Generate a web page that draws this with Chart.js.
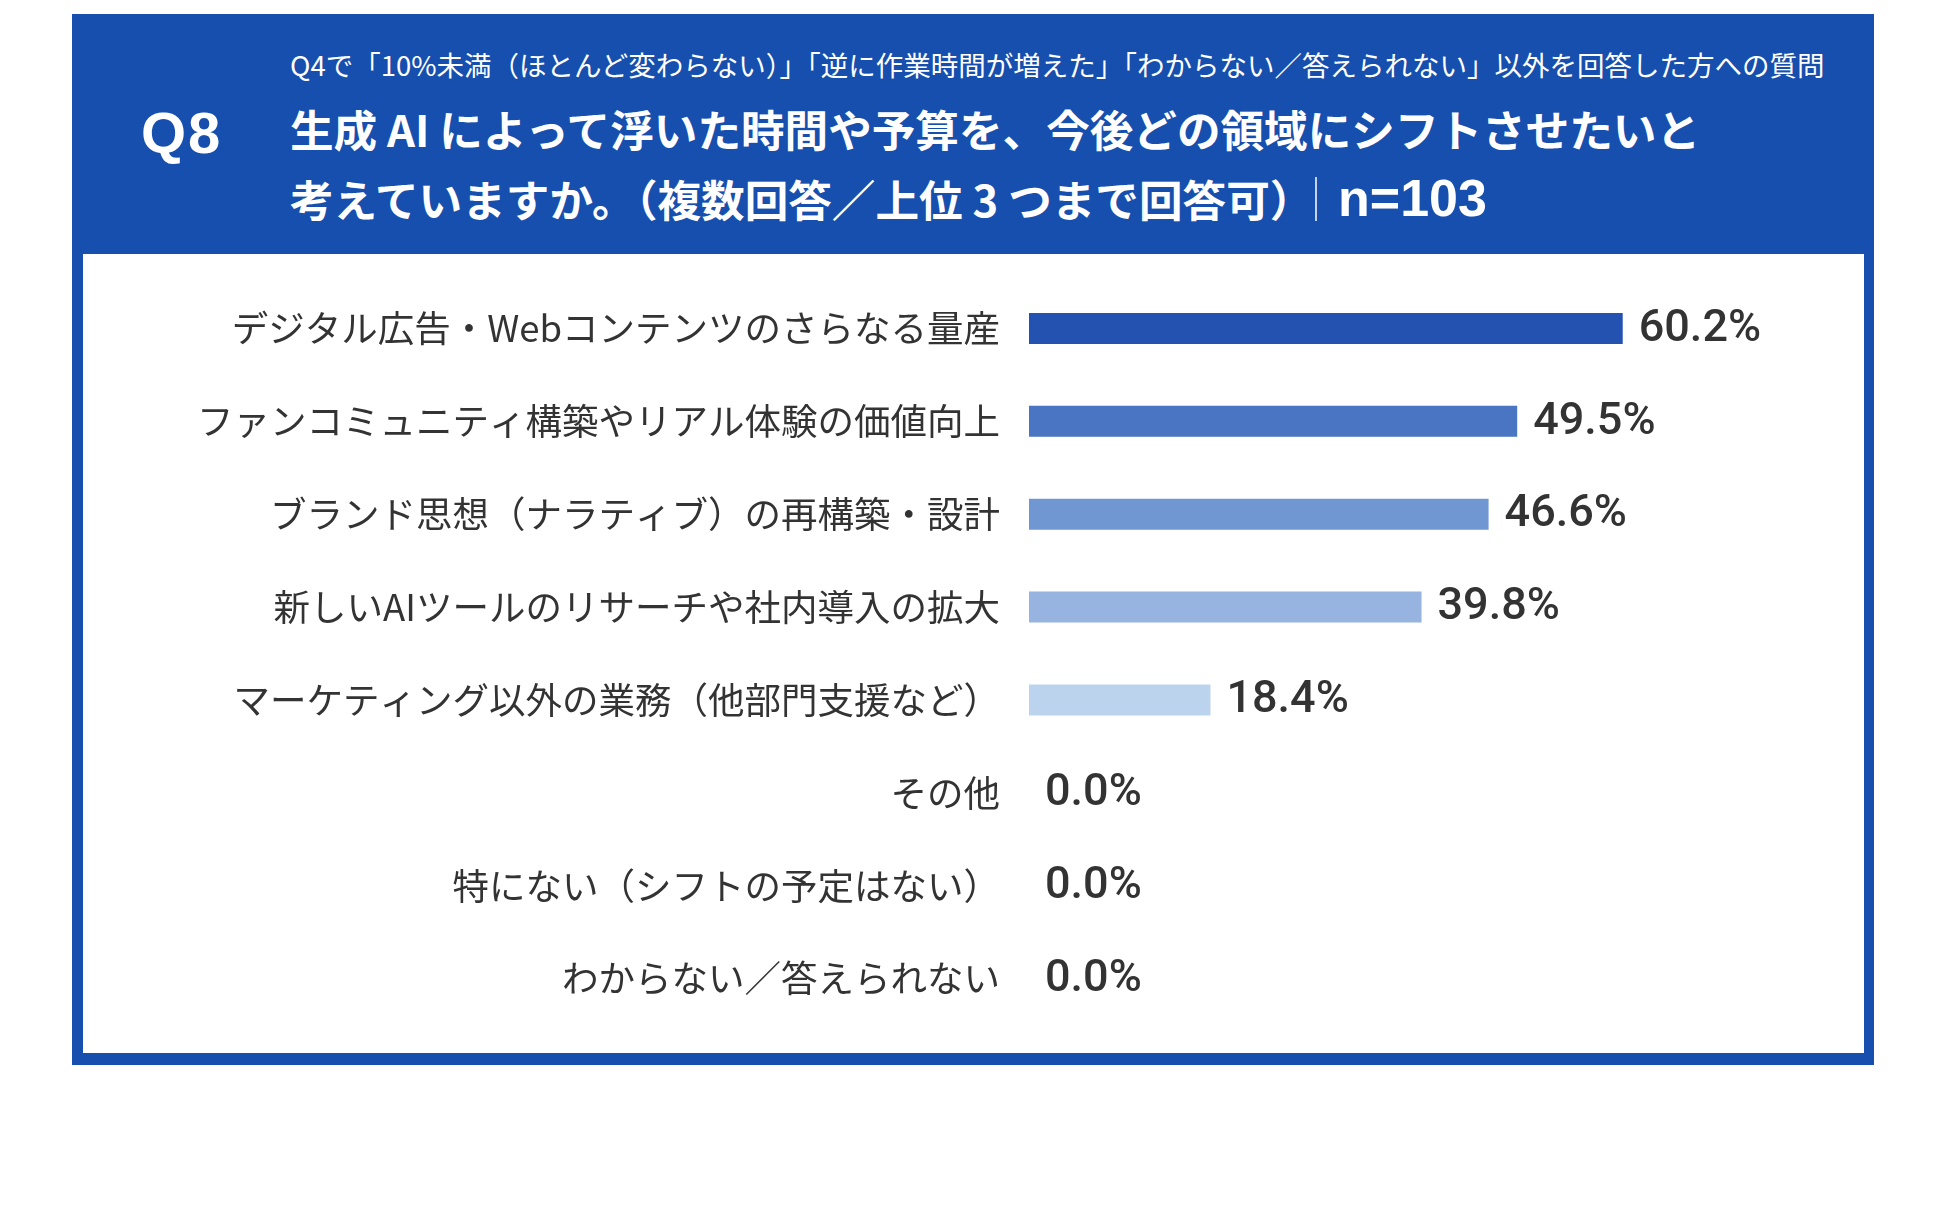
<!DOCTYPE html>
<html lang="ja">
<head>
<meta charset="utf-8">
<script src="https://cdn.jsdelivr.net/npm/chart.js@4.4.1/dist/chart.umd.min.js"></script>
<style>
  html, body { margin: 0; padding: 0; background: #ffffff; }
  body { width: 1950px; height: 1214px; position: relative; overflow: hidden; font-family: 'Noto Sans CJK JP', 'Noto Sans', sans-serif; }
  #frame { position: absolute; left: 72px; top: 14px; width: 1802px; height: 1051px; background: #164fad; }
  #inner { position: absolute; left: 83px; top: 254px; width: 1781px; height: 799px; background: #ffffff; }
  .hdr { position: absolute; color: #ffffff; white-space: nowrap; }
  #sub { left: 290px; top: 44px; font-size: 27.5px; line-height: 40px; font-weight: 400; }
  #q { left: 141px; top: 101px; font-family: 'Liberation Sans', Arial, sans-serif; font-size: 58px; line-height: 64px; font-weight: 700; letter-spacing: 2px; }
  #t1 { left: 290px; top: 103px; font-size: 43.6px; line-height: 50px; font-weight: 700; }
  #t2 { left: 290px; top: 173px; font-size: 43.6px; line-height: 50px; font-weight: 700; }
  #sep { position: absolute; left: 1315px; top: 177px; width: 2px; height: 44px; background: rgba(255,255,255,0.75); }
  #n { left: 1338px; top: 169px; font-family: 'Liberation Sans', Arial, sans-serif; font-size: 52px; line-height: 58px; font-weight: 700; }
  #chartBox { position: absolute; left: 84px; top: 256px; width: 1780px; height: 797px; }
</style>
</head>
<body>
<div id="frame"></div>
<div id="inner"></div>
<div class="hdr" id="sub">Q4で「10%未満（ほとんど変わらない）」「逆に作業時間が増えた」「わからない／答えられない」以外を回答した方への質問</div>
<div class="hdr" id="q">Q8</div>
<div class="hdr" id="t1">生成 AI によって浮いた時間や予算を、今後どの領域にシフトさせたいと</div>
<div class="hdr" id="t2">考えていますか。（複数回答／上位 3 つまで回答可）</div>
<div id="sep"></div>
<div class="hdr" id="n">n=103</div>
<div id="chartBox"><canvas id="c"></canvas></div>
<script>
const categories = [
  'デジタル広告・Webコンテンツのさらなる量産',
  'ファンコミュニティ構築やリアル体験の価値向上',
  'ブランド思想（ナラティブ）の再構築・設計',
  '新しいAIツールのリサーチや社内導入の拡大',
  'マーケティング以外の業務（他部門支援など）',
  'その他',
  '特にない（シフトの予定はない）',
  'わからない／答えられない'
];
const values = [60.2, 49.5, 46.6, 39.8, 18.4, 0.0, 0.0, 0.0];
const barColors = ['#2452b0', '#4a75c2', '#7097d1', '#97b3e0', '#bcd3ee', '#bcd3ee', '#bcd3ee', '#bcd3ee'];

const valueLabels = {
  id: 'valueLabels',
  afterDatasetsDraw(chart) {
    const ctx = chart.ctx;
    const meta = chart.getDatasetMeta(0);
    ctx.save();
    ctx.font = '500 45px Roboto, "Liberation Sans", sans-serif';
    ctx.fillStyle = '#333333';
    ctx.textAlign = 'left';
    ctx.textBaseline = 'middle';
    meta.data.forEach((bar, i) => {
      const v = chart.data.datasets[0].data[i];
      ctx.fillText(v.toFixed(1) + '%', bar.x + 16, bar.y + 1);
    });
    ctx.restore();
  }
};

new Chart(document.getElementById('c'), {
  type: 'bar',
  data: {
    labels: categories,
    datasets: [{
      data: values,
      backgroundColor: barColors,
      borderWidth: 0,
      barPercentage: 0.334,
      categoryPercentage: 1.0
    }]
  },
  options: {
    indexAxis: 'y',
    responsive: true,
    maintainAspectRatio: false,
    animation: false,
    layout: { padding: { top: 26, bottom: 28, left: 0, right: 46 } },
    plugins: { legend: { display: false }, tooltip: { enabled: false } },
    scales: {
      x: { display: false, min: 0, max: 80 },
      y: {
        afterFit(scale) { scale.width = 945; scale.paddingTop = 0; scale.paddingBottom = 0; },
        grid: { display: false, drawTicks: false },
        border: { display: false },
        ticks: {
          padding: 29,
          color: '#333333',
          font: { family: "'Noto Sans CJK JP', 'Noto Sans', sans-serif", size: 36.5, weight: '400' }
        }
      }
    }
  },
  plugins: [valueLabels]
});
</script>
</body>
</html>
